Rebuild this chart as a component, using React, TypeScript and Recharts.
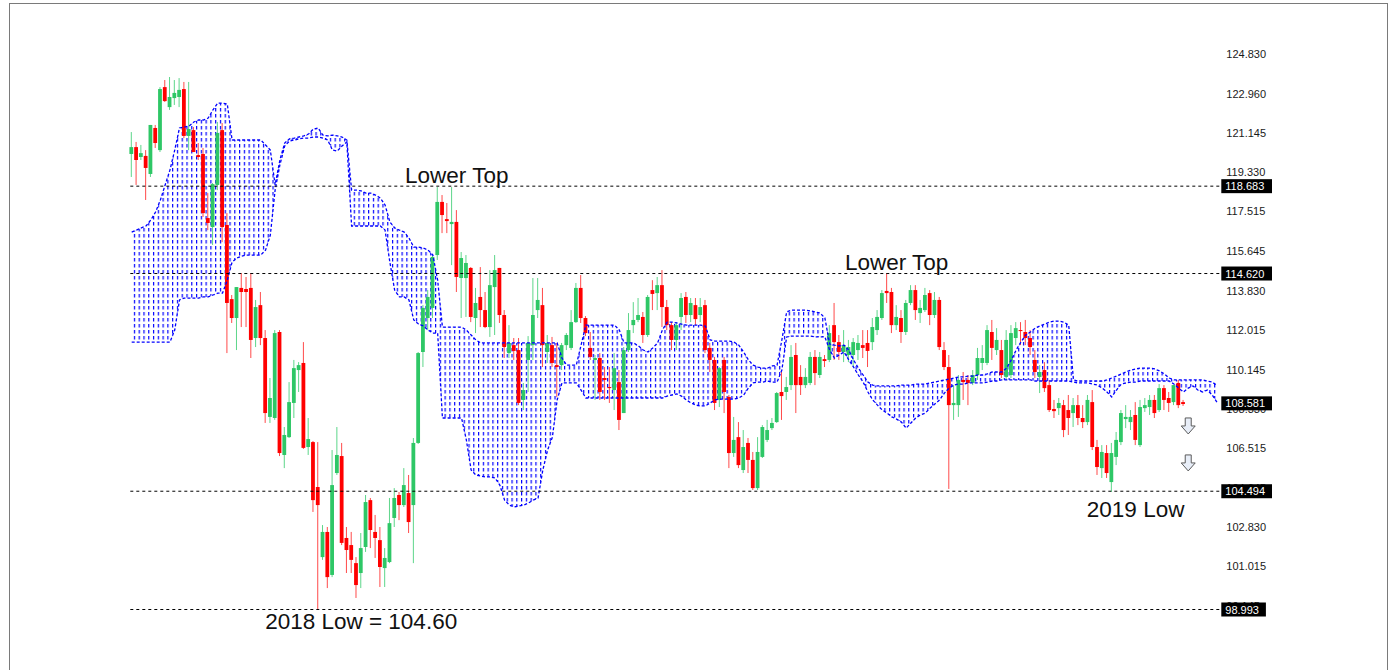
import React from "react";
import { ComposedChart, XAxis, YAxis, Bar, Area, Line, ReferenceLine, ReferenceDot } from "recharts";

// weekly candles
const opens = [
  120.18, 120.5, 120.04, 120.09, 119.25, 121.39, 120.36, 123.29, 122.36, 122.78,
  122.83, 123.2, 121.02, 121.29, 120.13, 120.18, 117.2, 116.78, 118.74, 121.29,
  116.88, 113.43, 112.55, 113.95, 113.9, 113.95, 111.62, 113.15, 111.62, 107.95,
  107.9, 111.9, 106.18, 107.01, 108.6, 110.13, 110.46, 106.55, 106.78, 104.69,
  101.43, 102.6, 100.6, 105.34, 106.13, 102.32, 101.99, 101.15, 100.69, 101.9,
  104.08, 102.6, 102.22, 100.92, 101.2, 103.25, 104.32, 103.85, 104.41, 103.85,
  106.74, 110.97, 112.55, 113.02, 115.48, 117.95, 117.15, 116.92, 117.02, 114.41,
  114.41, 114.88, 112.55, 113.53, 112.92, 112.13, 113.99, 114.88, 112.69, 110.92,
  111.29, 111.06, 108.74, 110.6, 111.29, 112.92, 113.15, 110.97, 111.29, 110.36,
  110.36, 111.29, 111.16, 112.36, 113.95, 112.55, 111.16, 110.6, 110.69, 109.76,
  109.34, 109.2, 109.57, 108.13, 111.06, 112.22, 112.46, 112.6, 111.76, 113.85,
  113.71, 114.08, 113.06, 112.22, 111.53, 112.6, 113.53, 112.69, 113.15, 112.69,
  113.15, 111.16, 110.6, 108.74, 110.6, 108.88, 106.27, 107.01, 105.48, 106.74,
  105.95, 104.64, 106.09, 106.88, 107.43, 107.71, 109.11, 109.11, 109.43, 110.83,
  109.81, 109.43, 109.53, 110.74, 109.9, 110.64, 110.6, 112.22, 111.43, 110.97,
  110.83, 110.83, 111.06, 111.29, 111.39, 111.43, 111.99, 112.55, 113.81, 113.76,
  112.22, 112.55, 111.9, 113.25, 113.85, 112.78, 112.92, 113.71, 112.69, 113.39,
  111.06, 110.27, 108.5, 108.5, 109.67, 109.67, 109.53, 109.9, 110.46, 110.46,
  111.9, 111.06, 111.06, 109.81, 109.9, 111.62, 111.99, 111.9, 111.62, 110.6,
  109.81, 110.13, 109.43, 108.32, 108.36, 108.5, 108.27, 108.13, 108.5, 107.9,
  107.71, 108.64, 106.55, 105.57, 106.27, 104.92, 106.09, 106.78, 107.85, 107.71,
  108.04, 106.64, 108.36, 108.41, 108.74, 108.27, 109.29, 108.83, 108.64, 109.53,
  108.64,
];
const highs = [
  121.2, 120.74, 120.6, 120.36, 121.53, 121.53, 123.29, 123.62, 123.76, 123.62,
  123.71, 123.53, 123.53, 121.43, 120.69, 120.46, 118.36, 118.83, 121.67, 121.62,
  117.43, 113.62, 113.99, 114.64, 114.46, 114.64, 113.39, 113.76, 111.99, 109.76,
  111.99, 111.99, 107.48, 109.57, 110.6, 110.5, 111.43, 107.9, 106.83, 106.78,
  102.92, 102.83, 106.41, 107.48, 106.74, 102.83, 102.6, 101.43, 102.55, 104.32,
  104.18, 103.39, 102.83, 101.85, 104.18, 104.64, 104.46, 105.57, 105.25, 106.97,
  110.97, 113.15, 113.85, 115.48, 118.64, 118.27, 117.9, 118.64, 117.57, 115.62,
  115.48, 114.92, 113.95, 114.92, 113.76, 114.78, 115.48, 114.88, 112.92, 112.22,
  111.62, 111.62, 109.53, 111.71, 114.41, 114.41, 113.95, 111.76, 111.67, 111.39,
  111.39, 111.85, 112.92, 114.18, 114.55, 112.64, 111.9, 110.83, 110.92, 110.27,
  110.27, 110.92, 110.13, 111.2, 112.78, 113.29, 113.48, 112.83, 113.62, 114.31,
  114.46, 114.78, 113.39, 112.36, 112.36, 113.71, 113.76, 113.48, 113.48, 113.48,
  113.39, 111.39, 110.74, 110.27, 110.74, 108.97, 107.95, 107.71, 107.34, 106.97,
  106.32, 107.01, 107.57, 107.81, 107.9, 109.11, 110.04, 109.81, 111.29, 111.39,
  110.36, 110.22, 110.97, 111.06, 110.97, 110.83, 112.22, 113.25, 111.76, 111.99,
  111.53, 111.62, 111.76, 111.99, 111.99, 112.55, 112.92, 113.85, 114.64, 113.95,
  113.15, 112.92, 113.39, 114.08, 114.08, 113.39, 113.95, 113.85, 113.76, 113.53,
  111.43, 110.83, 109.43, 109.9, 110.04, 109.9, 110.13, 111.16, 111.29, 112.22,
  112.46, 112.08, 111.53, 111.99, 112.22, 112.36, 112.36, 112.46, 111.99, 111.06,
  110.36, 110.5, 109.67, 108.74, 108.83, 108.74, 108.97, 108.83, 108.97, 108.5,
  108.97, 109.2, 106.88, 106.64, 106.64, 106.74, 107.25, 108.27, 108.5, 108.27,
  108.64, 108.74, 108.83, 108.97, 108.97, 109.48, 109.43, 109.11, 109.43, 109.67,
  108.74,
];
const lows = [
  119.11, 118.74, 119.9, 118.04, 119.11, 120.46, 120.27, 122.6, 122.23, 122.46,
  122.36, 120.92, 120.36, 120.27, 119.9, 117.25, 116.64, 115.95, 118.5, 116.08,
  110.92, 112.32, 111.06, 112.13, 112.13, 110.69, 111.2, 111.29, 107.67, 107.67,
  107.81, 106.13, 105.57, 106.97, 107.9, 109.11, 106.46, 106.18, 103.53, 98.97,
  101.3, 99.99, 100.5, 105.25, 101.99, 100.69, 100.69, 99.53, 99.99, 101.67,
  101.85, 101.39, 100.04, 100.04, 101.15, 102.83, 103.15, 103.76, 102.55, 101.15,
  106.69, 110.27, 111.99, 112.55, 115.25, 116.5, 116.5, 115.01, 113.76, 112.55,
  112.6, 112.36, 111.85, 112.13, 112.08, 111.67, 111.76, 112.32, 110.69, 110.69,
  110.6, 108.5, 108.27, 109.11, 110.6, 112.55, 110.27, 110.46, 110.27, 108.88,
  110.13, 111.06, 111.06, 112.32, 112.32, 111.71, 110.6, 108.74, 108.74, 108.74,
  108.6, 108.27, 107.34, 108.13, 110.97, 111.85, 112.36, 111.39, 111.67, 112.92,
  112.92, 112.13, 111.99, 111.06, 111.06, 111.99, 112.32, 112.36, 112.22, 112.36,
  110.92, 110.04, 108.27, 108.41, 108.13, 105.57, 106.09, 105.57, 105.34, 105.34,
  104.55, 104.55, 106.04, 106.78, 107.34, 107.67, 107.81, 108.74, 109.2, 108.13,
  108.97, 109.29, 109.43, 109.43, 109.76, 110.27, 110.5, 110.6, 110.6, 110.5,
  110.5, 110.27, 110.6, 110.69, 110.27, 111.06, 111.76, 112.46, 113.25, 111.85,
  111.99, 111.39, 111.76, 113.15, 112.46, 112.32, 112.83, 112.22, 112.55, 111.06,
  110.13, 104.6, 107.81, 107.95, 108.74, 108.5, 109.43, 109.67, 110.13, 110.36,
  110.6, 110.83, 109.76, 109.67, 109.76, 111.29, 111.29, 111.29, 110.83, 109.76,
  109.06, 109.11, 108.18, 107.9, 108.04, 107.01, 107.11, 107.48, 107.57, 107.43,
  107.57, 106.41, 105.25, 105.11, 105.11, 104.46, 105.71, 106.64, 107.43, 107.34,
  106.64, 106.55, 108.18, 108.04, 107.9, 108.18, 108.27, 108.18, 108.5, 108.36,
  108.46,
];
const closes = [
  120.5, 119.9, 120.22, 119.53, 121.53, 120.69, 123.2, 122.64, 122.83, 123.02,
  123.16, 121.02, 121.34, 120.27, 120.04, 117.43, 116.97, 118.78, 121.16, 116.78,
  113.25, 112.55, 113.99, 113.76, 113.76, 111.53, 113.06, 111.62, 108.13, 108.83,
  111.85, 106.27, 107.11, 108.64, 110.22, 110.36, 106.51, 106.92, 104.08, 103.85,
  102.6, 100.5, 104.78, 106.18, 102.09, 101.76, 101.3, 100.13, 101.85, 103.99,
  102.69, 102.32, 100.97, 101.39, 103.01, 104.18, 103.85, 104.78, 103.06, 106.74,
  110.92, 113.02, 113.53, 115.39, 117.95, 117.34, 117.06, 117.02, 114.46, 115.34,
  115.11, 112.6, 113.25, 112.92, 112.13, 114.08, 114.78, 112.69, 111.2, 111.39,
  111.02, 108.6, 109.2, 111.39, 112.69, 113.39, 111.29, 111.39, 110.46, 110.27,
  111.29, 111.76, 112.36, 113.95, 112.55, 111.85, 110.74, 110.69, 109.11, 109.67,
  109.29, 110.22, 107.81, 111.06, 111.99, 112.46, 112.69, 111.76, 113.53, 113.67,
  114.08, 113.06, 112.22, 111.53, 112.22, 113.48, 112.69, 113.25, 112.5, 113.06,
  111.06, 110.6, 108.6, 110.22, 109.11, 106.27, 106.88, 105.71, 106.55, 105.95,
  104.64, 106.32, 107.48, 107.34, 107.67, 109.06, 108.92, 109.34, 110.74, 109.43,
  109.43, 109.81, 110.74, 109.99, 110.74, 110.55, 111.85, 111.43, 110.97, 111.29,
  111.2, 111.43, 111.39, 111.16, 111.02, 112.13, 112.6, 113.71, 113.71, 112.22,
  112.6, 111.9, 113.25, 113.85, 112.92, 113.02, 113.62, 112.69, 113.39, 111.2,
  110.27, 108.5, 108.6, 109.67, 109.57, 109.53, 109.9, 110.69, 110.69, 111.99,
  111.16, 111.53, 109.9, 111.53, 111.85, 112.08, 111.95, 111.62, 111.2, 110.04,
  110.04, 109.29, 108.27, 108.22, 108.6, 107.34, 107.9, 108.5, 107.9, 107.71,
  108.74, 106.55, 105.62, 106.32, 105.34, 106.27, 106.88, 108.13, 107.95, 107.95,
  106.88, 108.41, 108.5, 108.74, 108.13, 109.29, 108.74, 108.6, 109.43, 108.5,
  108.55,
];

// ichimoku cloud edges (span A / span B), runs a few weeks past the last candle
const spanA = [
  116.55, 116.64, 116.74, 116.83, 117.11, 117.48, 118.04, 118.74, 119.43, 120.36,
  121.39, 121.43, 121.48, 121.67, 121.76, 121.76, 121.85, 122.23, 122.55, 122.55,
  122.5, 120.83, 120.83, 120.83, 120.83, 120.83, 120.83, 120.83, 120.6, 120.36,
  118.74, 119.9, 120.69, 120.88, 120.92, 120.97, 121.02, 121.11, 121.34, 121.39,
  121.06, 121.02, 121.06, 121.02, 120.97, 120.83, 118.5, 118.5, 118.46, 118.36,
  118.36, 118.27, 118.13, 117.81, 117.02, 116.74, 116.64, 116.55, 116.27, 115.85,
  115.85, 115.81, 115.71, 115.48, 114.31, 112.13, 112.13, 112.13, 112.13, 112.13,
  111.99, 111.76, 111.53, 111.39, 111.39, 111.39, 111.39, 111.39, 111.39, 111.39,
  111.39, 111.39, 111.39, 111.39, 111.39, 111.39, 111.39, 111.39, 111.39, 111.39,
  110.69, 110.36, 110.36, 110.36, 111.29, 112.22, 112.22, 112.22, 112.22, 112.22,
  112.22, 112.22, 111.99, 111.39, 111.39, 111.39, 111.25, 111.06, 110.97, 111.16,
  111.39, 111.99, 112.36, 112.36, 112.32, 112.27, 112.22, 112.22, 112.22, 112.22,
  112.18, 111.53, 111.48, 111.48, 111.48, 111.48, 111.43, 111.29, 110.97, 110.6,
  110.36, 110.27, 110.22, 110.22, 110.32, 110.36, 111.53, 112.83, 112.92, 112.92,
  112.92, 112.92, 112.88, 112.83, 112.78, 112.55, 111.34, 111.29, 111.25, 111.29,
  111.06, 110.6, 110.22, 109.9, 109.57, 109.43, 109.39, 109.39, 109.39, 109.39,
  109.39, 109.43, 109.43, 109.43, 109.48, 109.48, 109.48, 109.53, 109.57, 109.62,
  109.67, 109.71, 109.76, 109.81, 109.81, 109.85, 109.85, 109.9, 109.9, 109.95,
  110.04, 110.04, 110.04, 110.22, 110.6, 111.06, 111.43, 111.76, 111.9, 112.08,
  112.18, 112.27, 112.36, 112.41, 112.41, 112.36, 112.22, 109.67, 109.62, 109.62,
  109.62, 109.62, 109.62, 109.62, 109.67, 109.76, 109.85, 109.95, 110.04, 110.13,
  110.18, 110.22, 110.22, 110.22, 110.18, 110.09, 109.95, 109.76, 109.67, 109.67,
  109.67, 109.67, 109.67, 109.67, 109.67, 109.62, 109.57, 109.43,
];
const spanB = [
  111.43, 111.43, 111.43, 111.43, 111.43, 111.43, 111.43, 111.43, 111.43, 111.99,
  113.39, 113.48, 113.48, 113.48, 113.48, 113.53, 113.53, 113.62, 113.71, 113.71,
  114.31, 115.15, 115.34, 115.43, 115.48, 115.48, 115.48, 115.48, 115.71, 116.41,
  118.5, 119.67, 120.55, 120.78, 120.83, 120.88, 120.92, 120.92, 120.97, 120.97,
  120.92, 120.83, 120.36, 120.32, 120.55, 120.74, 116.83, 116.83, 116.83, 116.83,
  116.83, 116.83, 116.83, 116.64, 115.15, 113.85, 113.53, 113.53, 113.39, 112.46,
  112.27, 112.18, 111.99, 111.85, 111.85, 107.9, 107.9, 107.9, 107.9, 107.9,
  106.88, 105.48, 105.25, 105.2, 105.16, 105.16, 105.11, 104.78, 104.08, 103.85,
  103.76, 103.81, 103.85, 103.95, 104.08, 104.18, 105.48, 106.41, 107.01, 108.74,
  109.53, 109.53, 109.53, 109.53, 109.2, 108.83, 108.83, 108.83, 108.83, 108.83,
  108.83, 108.83, 108.83, 108.83, 108.83, 108.83, 108.83, 108.83, 108.83, 108.83,
  108.83, 108.83, 108.92, 108.97, 109.02, 108.92, 108.74, 108.6, 108.5, 108.46,
  108.46, 108.6, 108.74, 108.78, 108.78, 108.78, 108.78, 108.83, 108.97, 109.29,
  109.53, 109.57, 109.57, 109.62, 109.57, 109.57, 110.13, 111.67, 111.71, 111.71,
  111.71, 111.71, 111.71, 111.67, 111.67, 111.67, 111.06, 110.69, 110.83, 110.97,
  110.6, 110.27, 109.9, 109.57, 109.11, 108.74, 108.5, 108.27, 108.13, 107.95,
  107.85, 107.71, 107.43, 107.67, 107.9, 108.04, 108.13, 108.36, 108.55, 108.74,
  109.06, 109.29, 109.43, 109.48, 109.48, 109.53, 109.53, 109.53, 109.53, 109.57,
  109.62, 109.62, 109.67, 109.67, 109.67, 109.67, 109.67, 109.67, 109.67, 109.62,
  109.62, 109.62, 109.62, 109.62, 109.62, 109.62, 109.62, 109.57, 109.53, 109.53,
  109.53, 109.48, 109.43, 109.29, 109.11, 108.88, 109.2, 109.48, 109.53, 109.57,
  109.57, 109.62, 109.62, 109.62, 109.62, 109.62, 109.62, 109.62, 109.48, 109.29,
  109.11, 109.29, 109.39, 109.2, 109.11, 109.2, 108.97, 108.64,
];

const priceTicks = [
  124.83, 122.96, 121.145, 119.33, 117.515, 115.645, 113.83, 112.015,
  110.145, 108.33, 106.515, 104.645, 102.83, 101.015, 99.145,
];
const levels = [118.683, 114.62, 104.494, 98.993];
const lastPrice = 108.581;

const notes = [
  { x: 68, y: 118.83, text: "Lower Top" },
  { x: 160, y: 114.78, text: "Lower Top" },
  { x: 210, y: 103.29, text: "2019 Low" },
  { x: 48, y: 98.09, text: "2018 Low = 104.60" },
];
const arrows = [
  { x: 221, y: 107.53 },
  { x: 221, y: 105.81 },
];

const GREEN = "#2ec766";
const RED = "#ff0000";
const BLUE = "#0000ff";
const FONT = "'Liberation Sans', Arial, sans-serif";
const DOMAIN: [number, number] = [97.5, 126.5];
const MARGIN = { top: 18.1, right: 114.7, bottom: 28.4, left: 129.3 };

const data = spanA.map((a, i) => ({
  i,
  spanA: a,
  spanB: spanB[i],
  open: opens[i],
  high: highs[i],
  low: lows[i],
  close: closes[i],
}));

const Candle = (props: any) => {
  const { x, y, width, height, payload } = props;
  if (payload == null || payload.high == null) return null;
  const top = Math.min(y, y + height);
  const bottom = Math.max(y, y + height);
  const range = payload.high - payload.low;
  const py = (p: number) => (range === 0 ? top : top + ((payload.high - p) / range) * (bottom - top));
  const up = payload.close >= payload.open;
  const cx = x + width / 2;
  const bTop = py(Math.max(payload.open, payload.close));
  const bBot = py(Math.min(payload.open, payload.close));
  return (
    <g>
      <line x1={cx} x2={cx} y1={top} y2={bottom} stroke={up ? "#5dd68a" : "#ff4a4a"} strokeWidth={1} />
      <rect x={cx - 1.9} y={bTop} width={3.8} height={Math.max(1, bBot - bTop)} fill={up ? GREEN : RED} />
    </g>
  );
};

const PriceTick = (props: any) => {
  const { x, y, payload } = props;
  return (
    <text x={x} y={y} dy={4} textAnchor="start" fontSize={11} fontFamily={FONT} fill="#1a1a1a">
      {Number(payload.value).toFixed(3)}
    </text>
  );
};

const PriceTag = (props: any) => {
  const { viewBox, text } = props;
  if (!viewBox) return null;
  const x = viewBox.x + viewBox.width + 2;
  const y = viewBox.y;
  const w = text.length * 6.1 + 8;
  return (
    <g>
      <rect x={x} y={y - 7} width={w} height={14} fill="#000" />
      <text x={x + 4} y={y + 4} fontSize={11} fontFamily={FONT} fill="#fff">
        {text}
      </text>
    </g>
  );
};

const DownArrow = (props: any) => {
  const { cx, cy } = props;
  const d = `M${cx - 3},${cy - 8} L${cx + 3},${cy - 8} L${cx + 3},${cy} L${cx + 7},${cy} L${cx},${cy + 8} L${cx - 7},${cy} L${cx - 3},${cy} Z`;
  return <path d={d} fill="#e8eef8" stroke="#5a5a5a" strokeWidth={1} />;
};

export default function App() {
  return (
    <div style={{ position: "absolute", left: 0, top: 0, width: 1394, height: 670, background: "#fff", overflow: "hidden" }}>
      <div style={{ position: "absolute", left: 9, top: 3, width: 1379, height: 720, border: "1px solid #7a7a7a", boxSizing: "border-box" }} />
      {/* price scale underneath, so the level tags can cover it */}
      <div style={{ position: "absolute", left: 0, top: 0 }}>
        <ComposedChart width={1394} height={670} data={data} margin={MARGIN}>
          <XAxis dataKey="i" hide />
          <YAxis
            orientation="right"
            domain={DOMAIN}
            allowDataOverflow
            ticks={priceTicks}
            interval={0}
            tick={<PriceTick />}
            tickSize={0}
            tickMargin={7}
            axisLine={false}
            tickLine={false}
            width={60}
          />
        </ComposedChart>
      </div>
      <div style={{ position: "absolute", left: 0, top: 0 }}>
        <ComposedChart width={1394} height={670} data={data} margin={MARGIN}>
          <defs>
            <pattern id="hatch" patternUnits="userSpaceOnUse" width={4.78} height={6}>
              <rect x={0} y={0} width={1.2} height={3.5} fill={BLUE} />
            </pattern>
          </defs>
          <XAxis dataKey="i" hide />
          <YAxis
            orientation="right"
            domain={DOMAIN}
            allowDataOverflow
            ticks={priceTicks}
            tick={false}
            axisLine={false}
            tickLine={false}
            width={60}
          />
          <Area
            dataKey={(d: any) => [d.spanB, d.spanA]}
            type="linear"
            stroke="none"
            fill="url(#hatch)"
            fillOpacity={1}
            isAnimationActive={false}
          />
          <Line dataKey="spanA" type="linear" stroke={BLUE} strokeWidth={1.3} strokeDasharray="3 2" dot={false} isAnimationActive={false} />
          <Line dataKey="spanB" type="linear" stroke={BLUE} strokeWidth={1.3} strokeDasharray="3 2" dot={false} isAnimationActive={false} />
          <Bar
            dataKey={(d: any) => (d.high == null ? null : [d.low, d.high])}
            barSize={4}
            shape={<Candle />}
            isAnimationActive={false}
          />
          {levels.map((v) => (
            <ReferenceLine key={v} y={v} stroke="#000" strokeDasharray="3 3" label={<PriceTag text={v.toFixed(3)} />} />
          ))}
          <ReferenceLine y={lastPrice} stroke="none" label={<PriceTag text={lastPrice.toFixed(3)} />} />
          {notes.map((n, k) => (
            <ReferenceDot
              key={k}
              x={n.x}
              y={n.y}
              r={0}
              shape={(p: any) => (
                <text x={p.cx} y={p.cy} textAnchor="middle" fontSize={22.5} fontFamily={FONT} fill="#111">
                  {n.text}
                </text>
              )}
            />
          ))}
          {arrows.map((a, k) => (
            <ReferenceDot key={"a" + k} x={a.x} y={a.y} r={0} shape={<DownArrow />} />
          ))}
        </ComposedChart>
      </div>
    </div>
  );
}
